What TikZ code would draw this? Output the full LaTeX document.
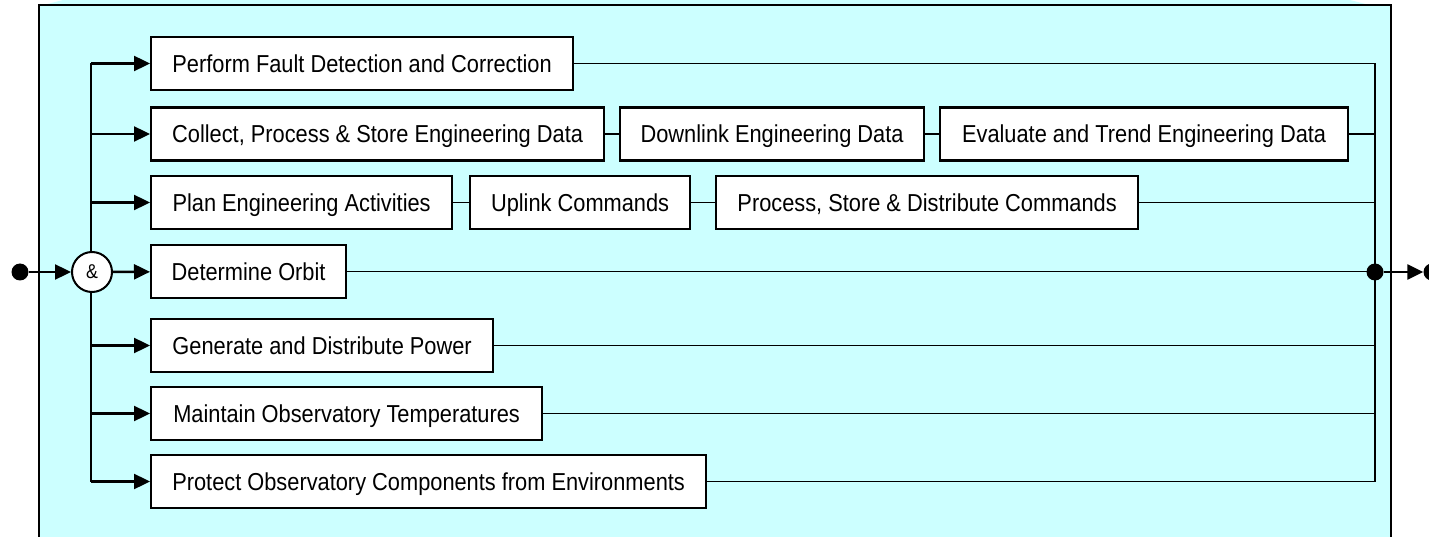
\documentclass[tikz,border=0pt]{standalone}
\usepackage{fontspec}
\setmainfont[FakeStretch=0.89]{Liberation Sans}
\usetikzlibrary{arrows.meta}
\definecolor{panel}{RGB}{204,255,255}
\tikzset{
  box/.style={draw=black, line width=2.2pt, fill=white, rectangle, anchor=west,
    minimum height=53pt, inner sep=0pt, text height=17.5pt, text depth=0pt,
    font=\fontsize{24.5}{28}\selectfont},
  feed/.style={line width=2.4pt, -{Triangle[length=16pt,width=15pt]}},
  link/.style={line width=1.8pt},
  bus/.style={line width=2.4pt},
  dot/.style={circle, fill=black, minimum size=17pt, inner sep=0pt},
  andgate/.style={circle, draw=black, line width=2pt, fill=white, minimum size=40pt,
    inner sep=0pt, font=\fontsize{20}{24}\selectfont}
}
\begin{document}
\begin{tikzpicture}[x=1pt,y=-1pt]
\useasboundingbox (0,0) rectangle (1429,537);
% panel behind the function blocks
\fill[panel] (63,0) -- (1350,0) -- (1373,6) -- (40,6) -- cycle;
\filldraw[fill=panel, draw=black, line width=2.5pt] (39,5) rectangle (1391,560);

% left and right buses
\coordinate (lt) at (91,63.5);
\coordinate (lb) at (91,481.5);
\coordinate (rt) at (1375,63.5);
\coordinate (rb) at (1375,481.5);
\draw[bus] (lt) -- (lb);
\draw[link] (rt) -- (rb);

% function blocks
\node[box, minimum width=422pt] (fdc) at (150,63.5) {Perform Fault Detection and Correction};

\node[box, minimum width=453pt] (cps) at (150,134) {Collect, Process \& Store Engineering Data};
\node[box, minimum width=304pt] (dle) at (619,134) {Downlink Engineering Data};
\node[box, minimum width=408pt] (ete) at (939,134) {Evaluate and Trend Engineering Data};

\node[box, minimum width=301pt] (pea) at (150,202.5) {Plan Engineering Activities};
\node[box, minimum width=220pt] (upl) at (469,202.5) {Uplink Commands};
\node[box, minimum width=422pt] (psd) at (715,202.5) {Process, Store \& Distribute Commands};

\node[box, minimum width=195pt] (orb) at (150,271.5) {Determine Orbit};
\node[box, minimum width=342pt] (pwr) at (150,345.5) {Generate and Distribute Power};
\node[box, minimum width=391pt] (tmp) at (150,413.5) {Maintain Observatory Temperatures};
\node[box, minimum width=555pt] (env) at (150,481.5) {Protect Observatory Components from Environments};

% input, AND junction, output
\node[dot] (in) at (20,272) {};
\node[andgate] (amp) at (92,272) {\&};
\node[dot] (join) at (1375,272) {};
\node[dot] (out) at (1432,272) {};

\draw[feed] (in) -- (amp);
\draw[feed] (amp) -- (orb);
\foreach \b in {fdc,cps,pea,pwr,tmp,env}
  \draw[feed] (\b.west -| lt) -- (\b.west);

% sequences within a row
\draw[link] (cps) -- (dle);
\draw[link] (dle) -- (ete);
\draw[link] (pea) -- (upl);
\draw[link] (upl) -- (psd);

% row ends to the right bus
\foreach \b in {fdc,ete,psd,orb,pwr,tmp,env}
  \draw[link] (\b.east) -- (\b.east -| rt);

\draw[feed] (join) -- (out);
\end{tikzpicture}
\end{document}
